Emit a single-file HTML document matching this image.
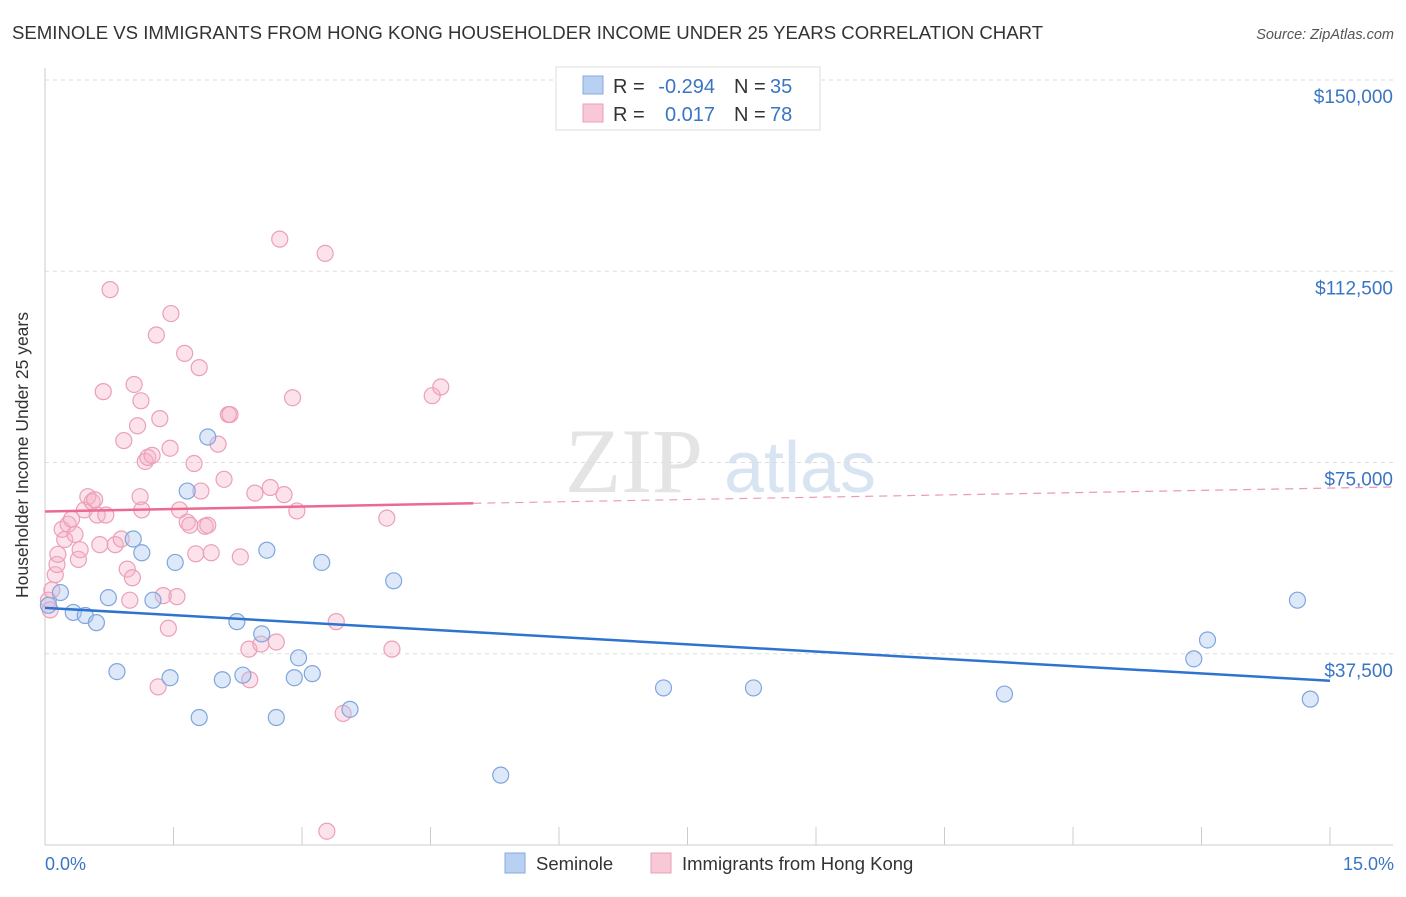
<!DOCTYPE html>
<html><head><meta charset="utf-8"><style>
body{margin:0;background:#fff;font-family:"Liberation Sans",sans-serif}
</style></head><body>
<svg width="1406" height="892" xmlns="http://www.w3.org/2000/svg" id="chart">
<text x="12" y="39" font-size="18.6" fill="#333">SEMINOLE VS IMMIGRANTS FROM HONG KONG HOUSEHOLDER INCOME UNDER 25 YEARS CORRELATION CHART</text>
<text x="1394" y="39" font-size="14.5" fill="#555" text-anchor="end" font-style="italic">Source: ZipAtlas.com</text>
<text x="634" y="492" font-size="92" fill="#e4e4e4" font-family="Liberation Serif" text-anchor="middle">ZIP</text>
<text x="800" y="492" font-size="72" fill="#d8e4f2" text-anchor="middle">atlas</text>
<g id="grid"></g><g id="axes"></g><g id="marks"></g>
<text x="28" y="455" font-size="17.5" fill="#333" text-anchor="middle" transform="rotate(-90 28 455)">Householder Income Under 25 years</text>
<text x="45" y="870" font-size="18" fill="#3a75c4">0.0%</text>
<text x="1394" y="870" font-size="18" fill="#3a75c4" text-anchor="end">15.0%</text>
<g font-size="20">
<rect x="556" y="67" width="264" height="63" fill="#fff" stroke="#ddd"/>
<rect x="583" y="76" width="20" height="18" fill="#b8d0f2" stroke="#88aadd"/>
<rect x="583" y="104" width="20" height="18" fill="#f8c8d6" stroke="#e9a0b8"/>
<text x="613" y="93" fill="#333">R =</text>
<text x="715" y="93" fill="#3a75c4" text-anchor="end">-0.294</text>
<text x="734" y="93" fill="#333">N =</text>
<text x="770" y="93" fill="#3a75c4">35</text>
<text x="613" y="121" fill="#333">R =</text>
<text x="715" y="121" fill="#3a75c4" text-anchor="end">0.017</text>
<text x="734" y="121" fill="#333">N =</text>
<text x="770" y="121" fill="#3a75c4">78</text>
</g>
<g>
<rect x="505" y="853" width="20" height="20" fill="#b8d0f2" stroke="#88aadd"/>
<text x="536" y="870" font-size="18.5" fill="#333">Seminole</text>
<rect x="651" y="853" width="20" height="20" fill="#f8c8d6" stroke="#e9a0b8"/>
<text x="682" y="870" font-size="18.5" fill="#333">Immigrants from Hong Kong</text>
</g>
</svg>
<script>
const yTicks=[37500,75000,112500,150000];
const yTickLabels=["$37,500","$75,000","$112,500","$150,000"];
const seminoleX=[0.04,0.18,0.33,0.47,0.6,0.74,0.84,1.03,1.13,1.26,1.46,1.52,1.66,1.8,1.9,2.07,2.24,2.31,2.53,2.59,2.7,2.91,2.96,3.12,3.23,3.56,4.07,5.32,7.22,8.27,11.2,13.41,13.57,14.62,14.77];
const seminoleY=[47000,49500,45600,45000,43600,48500,34000,60000,57300,48000,32800,55400,69400,25000,80000,32400,43800,33300,41400,57800,25000,32800,36700,33600,55400,26600,51800,13700,30800,30800,29600,36500,40200,48000,28600];
const hkX=[0.04,0.06,0.08,0.12,0.14,0.15,0.2,0.23,0.27,0.31,0.35,0.39,0.41,0.46,0.5,0.55,0.58,0.61,0.64,0.68,0.71,0.76,0.82,0.89,0.92,0.96,0.99,1.02,1.04,1.08,1.12,1.11,1.13,1.17,1.2,1.25,1.3,1.32,1.34,1.38,1.44,1.46,1.47,1.54,1.57,1.63,1.66,1.69,1.74,1.76,1.8,1.82,1.87,1.9,1.94,2.02,2.09,2.14,2.16,2.28,2.38,2.45,2.52,2.63,2.7,2.74,2.79,2.89,2.94,3.27,3.29,3.4,3.48,3.99,4.05,4.52,4.62,2.39];
const hkY=[48000,46100,50000,53000,55000,57000,61900,59900,62900,63900,60900,56000,57900,65700,68300,67300,67700,64700,58900,88900,64700,108900,58900,60000,79300,54100,48000,52400,90300,82200,87100,68300,65700,75200,76000,76400,100000,31000,83600,48900,42500,77800,104200,48700,65700,96400,63300,62700,74800,57100,93600,69400,62500,62700,57300,78600,71700,84400,84400,56500,38400,69000,39400,70100,39800,118800,68700,87700,65500,116000,2700,43800,25800,64100,38400,88100,89800,32400];
const X0=45,X1=1330,YB=845,YT=80;
const xs=v=>X0+(v/15)*(X1-X0);
const ys=v=>YB-(v/150000)*(YB-YT);
const ns="http://www.w3.org/2000/svg";
function mk(tag,attrs,parent){const e=document.createElementNS(ns,tag);for(const k in attrs)e.setAttribute(k,attrs[k]);document.getElementById(parent).appendChild(e);return e;}
yTicks.forEach((t,i)=>{
 const l=mk('line',{x1:X0,x2:1393,y1:ys(t),y2:ys(t),stroke:'#ddd','stroke-dasharray':'4,4'},'grid');
 
 
 const tx=mk('text',{x:1393,y:ys(t)+23,'font-size':19,fill:'#3a75c4','text-anchor':'end'},'grid');
 tx.textContent=yTickLabels[i];
 
 
});
const ax=mk('line',{x1:X0,x2:1393,y1:YB,y2:YB,stroke:'#ccc'},'axes');


const ay=mk('line',{x1:X0,x2:X0,y1:68,y2:YB,stroke:'#ccc'},'axes');


for(let i=0;i<=10;i++){const t=mk('line',{x1:xs(i*1.5),x2:xs(i*1.5),y1:YB,y2:827,stroke:'#ccc'},'axes');
 
 }
hkX.forEach((x,i)=>{const c=mk('circle',{cx:xs(x),cy:ys(hkY[i]),r:8,fill:'rgba(246,176,198,0.35)',stroke:'#eba0b8','stroke-width':1.2},'marks');
 
 });
seminoleX.forEach((x,i)=>{const c=mk('circle',{cx:xs(x),cy:ys(seminoleY[i]),r:8,fill:'rgba(170,198,240,0.4)',stroke:'#7fa6dd','stroke-width':1.2},'marks');
 
 });
const bt=mk('line',{x1:xs(0),y1:ys(46500),x2:xs(15),y2:ys(32200),stroke:'#2f73d0','stroke-width':2.5},'marks');


const pt=mk('line',{x1:xs(0),y1:ys(65400),x2:xs(5),y2:ys(67000),stroke:'#ea6a92','stroke-width':2.5},'marks');


const pd=mk('line',{x1:xs(5),y1:ys(67000),x2:1393,y2:ys(70200),stroke:'#ea9ab4','stroke-width':1.2,'stroke-dasharray':'8,6'},'marks');


</script>
</body></html>
